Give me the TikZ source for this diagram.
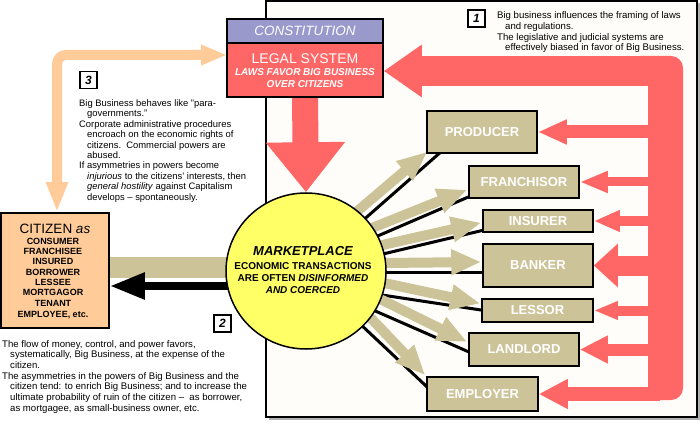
\documentclass[tikz,border=0pt]{standalone}
\usepackage{fontspec}
\setmainfont{Liberation Sans}
\usetikzlibrary{arrows.meta,calc,shapes.geometric}
\pgfdeclarelayer{bgzero}
\pgfdeclarelayer{bgone}
\pgfsetlayers{bgzero,bgone,main}
\definecolor{lsred}{HTML}{FF6666}
\definecolor{lav}{HTML}{9999CC}
\definecolor{tanc}{HTML}{CCC399}
\definecolor{peach}{HTML}{FFCC99}
\definecolor{mkyellow}{HTML}{FFFF66}
\definecolor{panelc}{HTML}{FFFDF9}
\begin{document}
\begin{tikzpicture}[x=1pt,y=-1pt,
  rolebox/.style={draw=black, line width=1.5pt, fill=tanc, text=white, inner sep=0pt, minimum width=110pt,
    font=\fontsize{13}{13}\selectfont\bfseries},
  hdrbox/.style={draw=black, line width=1.5pt, minimum width=156pt, inner sep=0pt},
  numbox/.style={draw=black, line width=1.2pt, fill=white, minimum size=17pt, inner sep=0pt,
    font=\fontsize{12}{12}\selectfont\bfseries\itshape},
  bodytext/.style={inner sep=0pt, align=left, anchor=north west},
  wtext/.style={inner sep=0pt, text=white},
  tanarrow/.style={draw=tanc, line width=10pt, -{Triangle[length=30pt,width=24pt]}, shorten <=-14pt},
  blkline/.style={draw=black, line width=3pt, shorten <=-14pt},
  redarrow/.style={draw=lsred}
]
\useasboundingbox (0,0) rectangle (700,435);

% ---------- nodes ----------
\node[hdrbox, fill=lav, minimum height=24pt] (constitution) at (305,31) {};
\node[hdrbox, fill=lsred, minimum height=54pt] (legal) at (305,70) {};
\node[wtext, font=\fontsize{13.5}{14}\selectfont\itshape] (constT) at (305,31) {CONSTITUTION};
\node[wtext, font=\fontsize{14}{14}\selectfont] (legalT) at (305,58.5) {LEGAL SYSTEM};
\node[wtext, font=\fontsize{10}{10}\selectfont\bfseries\itshape] (lawsT) at (305,72) {LAWS FAVOR BIG BUSINESS};
\node[wtext, font=\fontsize{10}{10}\selectfont\bfseries\itshape] (overT) at (305,84) {OVER CITIZENS};

\node[ellipse, draw=black, line width=1.5pt, fill=mkyellow, minimum width=160pt, minimum height=156pt, inner sep=0pt] (market) at (306,271) {};
\node[inner sep=0pt, font=\fontsize{13}{13}\selectfont\bfseries\itshape] (mk1) at (303,251) {MARKETPLACE};
\node[inner sep=0pt, align=center, font=\fontsize{10}{12.4}\selectfont\bfseries] (mk2) at (303,278)
  {ECONOMIC TRANSACTIONS\\ARE OFTEN \textit{DISINFORMED}\\\textit{AND COERCED}};

\node[rolebox, minimum height=42pt] (producer) at (482,132) {PRODUCER};
\node[rolebox, minimum height=32pt] (franchisor) at (524,182) {FRANCHISOR};
\node[rolebox, minimum height=22pt] (insurer) at (538,221) {INSURER};
\node[rolebox, minimum height=43pt] (banker) at (538,265.5) {BANKER};
\node[rolebox, minimum height=23pt, minimum width=111pt] (lessor) at (537.5,310.5) {LESSOR};
\node[rolebox, minimum height=33pt] (landlord) at (524,349.5) {LANDLORD};
\node[rolebox, minimum height=34pt, minimum width=111pt] (employer) at (482.5,394) {EMPLOYER};

\node[draw=black, line width=1.5pt, fill=peach, minimum width=108pt, minimum height=115pt, inner sep=0pt] (citizen) at (55,270.5) {};
\node[inner sep=0pt, font=\fontsize{13.5}{14}\selectfont] (citT) at (55,229) {CITIZEN \textit{as}};
\node[inner sep=0pt, align=center, font=\fontsize{9}{10.35}\selectfont\bfseries] (citL) at (53,272)
  {CONSUMER\\FRANCHISEE\\INSURED\\BORROWER\\LESSEE\\MORTGAGOR\\TENANT};
\node[inner sep=0pt, font=\fontsize{9}{10}\selectfont\bfseries] (citE) at (53,315) {EMPLOYEE, etc.};

\node[numbox] (n1) at (476.5,18.5) {1};
\node[numbox] (n3) at (88.5,80) {3};
\node[numbox] (n2) at (222.5,323.5) {2};

\node[bodytext, font=\fontsize{9.6}{10.7}\selectfont] (t1) at (497,11.5) {Big business influences the framing of laws\\
\hspace*{8pt}and regulations.\\
The legislative and judicial systems are\\
\hspace*{8pt}effectively biased in favor of Big Business.};

\node[bodytext, font=\fontsize{9.4}{10.4}\selectfont] (t3) at (79,99.5) {Big Business behaves like "para-\\
\hspace*{8pt}governments."\\
Corporate administrative procedures\\
\hspace*{8pt}encroach on the economic rights of\\
\hspace*{8pt}citizens.\ \ Commercial powers are\\
\hspace*{8pt}abused.\\
If asymmetries in powers become\\
\hspace*{8pt}\textit{injurious} to the citizens' interests, then\\
\hspace*{8pt}\textit{general hostility} against Capitalism\\
\hspace*{8pt}develops -- spontaneously.};

\node[bodytext, font=\fontsize{9.6}{10.7}\selectfont] (t2) at (2,340) {The flow of money, control, and power favors,\\
\hspace*{8pt}systematically, Big Business, at the expense of the\\
\hspace*{8pt}citizen.\\
The asymmetries in the powers of Big Business and the\\
\hspace*{8pt}citizen tend: to enrich Big Business; and to increase the\\
\hspace*{8pt}ultimate probability of ruin of the citizen --\ \ as borrower,\\
\hspace*{8pt}as mortgagee, as small-business owner, etc.};

% ---------- background panel ----------
\begin{pgfonlayer}{bgzero}
\fill[white] (0,0) rectangle (700,435);
\fill[gray!60] (268.5,3.5) rectangle (699.5,419.5);
\node[draw=black, line width=1.2pt, fill=panelc, minimum width=431pt, minimum height=416pt, inner sep=0pt] (panel) at (481.5,209) {};
\end{pgfonlayer}

% ---------- connectors ----------
\begin{pgfonlayer}{bgone}
% red loop
\fill[lsred] (640,56) -- (671,56) arc[start angle=-90,end angle=0,radius=12] -- (683,388)
  arc[start angle=0,end angle=90,radius=12] -- (560,400) -- (560,387) -- (648,387) -- (648,86) -- (640,86) -- cycle;
\coordinate (lgR) at (665,71);
\coordinate (rvb) at (660,0);
\draw[redarrow, line width=30pt, -{Triangle[length=38pt,width=50pt]}] (lgR) -- (lgR -| legal.east);
\draw[redarrow, line width=13pt, -{Triangle[length=29pt,width=23pt]}] (producer.east -| rvb) -- (producer.east);
\draw[redarrow, line width=9pt, -{Triangle[length=28pt,width=20pt]}] (franchisor.east -| rvb) -- (franchisor.east);
\draw[redarrow, line width=10pt, -{Triangle[length=26pt,width=20pt]}] (insurer.east -| rvb) -- (insurer.east);
\draw[redarrow, line width=20pt, -{Triangle[length=24pt,width=42pt]}] (banker.east -| rvb) -- (banker.east);
\draw[redarrow, line width=10pt, -{Triangle[length=24pt,width=17pt]}] (lessor.east -| rvb) -- (lessor.east);
\draw[redarrow, line width=12pt, -{Triangle[length=28pt,width=26pt]}] (landlord.east -| rvb) -- (landlord.east);
\draw[redarrow, line width=13pt, -{Triangle[length=29pt,width=28pt]}] (employer.east -| rvb) -- (employer.east);
% red down arrow
\draw[redarrow, line width=26pt, -{Triangle[length=50pt,width=76pt]}] (legal.south) -- (market.north);

% citizen <-> market
\coordinate (bandR) at (260,267.5);
\coordinate (blkR) at (260,286);
\draw[tanc, line width=21pt] (bandR) -- (citizen.east |- bandR);
\draw[black, line width=8pt, -{Triangle[length=35pt,width=25pt]}] (blkR) -- (citizen.east |- blkR);

% peach double arrow
\coordinate (pkB) at ($(citizen.north)+(2,0)$);
\coordinate (pkT) at (227,55);
\draw[peach, line width=10pt, rounded corners=9pt, {Triangle[length=30pt,width=20pt]}-{Triangle[length=26pt,width=19pt]}] (pkB) |- (pkT);

% black lines
\draw[blkline] (360,223) -- ($(producer.south west)+(16,-3)$);
\draw[blkline] (373,238) -- ($(franchisor.south west)+(3,-3)$);
\draw[blkline] (383,254) -- ($(insurer.south west)+(3,-3)$);
\draw[blkline] (387,272) -- ($(banker.west)+(3,6.5)$);
\draw[blkline] (382,295) -- ($(lessor.west)+(3,0)$);
\draw[blkline] (373,310) -- ($(landlord.west)+(3,3.5)$);
\draw[blkline] (358,322) -- ($(employer.west)+(3,-5)$);
% tan arrows
\draw[tanarrow] (354,214) -- ($(producer.south west)+(1,-2)$);
\draw[tanarrow] (367,230) -- ($(franchisor.south west)+(-1,-9)$);
\draw[tanarrow] (378,246) -- ($(insurer.south west)+(-1,-10)$);
\draw[tanarrow] (384,263) -- ($(banker.west)+(-1,-3.5)$);
\draw[tanarrow] (384,283) -- ($(lessor.west)+(-1,-7)$);
\draw[tanarrow] (378,298) -- ($(landlord.west)+(-1,-7.5)$);
\draw[tanarrow] (366,313) -- ($(employer.north west)+(-1,-1)$);
\end{pgfonlayer}
\end{tikzpicture}
\end{document}
